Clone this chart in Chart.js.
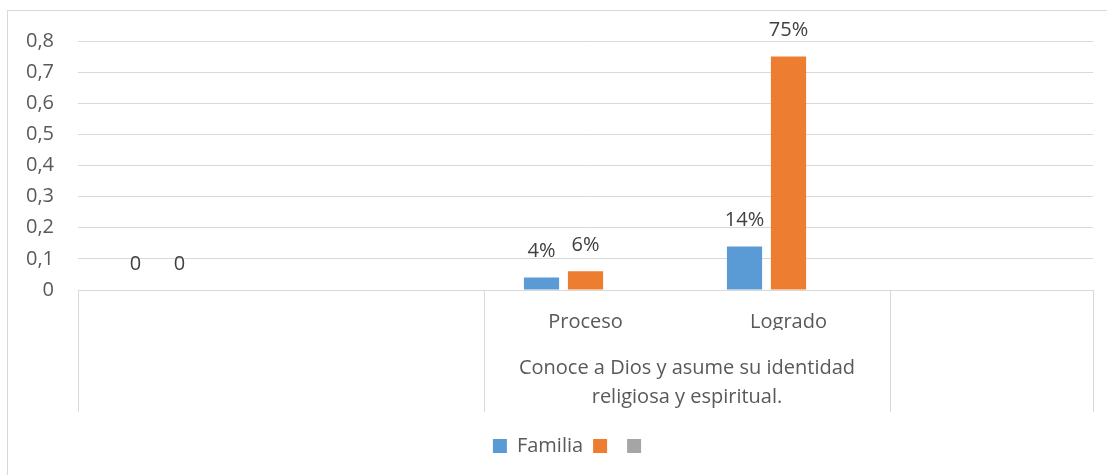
<!DOCTYPE html>
<html>
<head>
<meta charset="utf-8">
<script src="https://cdn.jsdelivr.net/npm/chart.js@4.4.0/dist/chart.umd.min.js"></script>
<style>
    html, body { margin: 0; padding: 0; background: #fff; overflow: hidden; }
    #marco {
        position: absolute; left: 7px; top: 10px;
        width: 1128px; height: 464px;
        border-left: 1px solid #d9d9d9; border-top: 1px solid #d9d9d9;
    }
</style>
</head>
<body>
<div id="marco"><canvas id="myChart" width="1128" height="464"></canvas></div>
<script>
const categorias = ['', '', 'Proceso', 'Logrado', ''];
const grupos = ['', '', '', ['Conoce a Dios y asume su identidad', 'religiosa y espiritual.'], '', ''];
const familia = [0, null, 0.04, 0.14, null];
const serie2 = [0, null, 0.06, 0.75, null];
const serie3 = [null, null, null, null, null];
const yTicks = [0, 0.1, 0.2, 0.3, 0.4, 0.5, 0.6, 0.7, 0.8];

(()=>{
    const ctxChart = document.getElementById('myChart').getContext('2d');
    const FUENTE = "'Open Sans', sans-serif";
    const GRIS = '#d9d9d9';
    const TEXTO = '#595959';
    const NADA = 'rgba(0,0,0,0)';

    // etiquetas encima de cada barra
    const etiquetas = {
        id: 'etiquetas',
        afterDatasetsDraw(chart) {
            const ctx = chart.ctx;
            ctx.save();
            ctx.font = '20px ' + FUENTE;
            ctx.fillStyle = '#404040';
            ctx.textAlign = 'center';
            ctx.textBaseline = 'middle';
            chart.data.datasets.forEach((ds, i) => {
                const meta = chart.getDatasetMeta(i);
                meta.data.forEach((bar, j) => {
                    const v = ds.data[j];
                    if (v === null || v === undefined) return;
                    const txt = v === 0 ? '0' : Math.round(v * 100) + '%';
                    ctx.fillText(txt, bar.x, bar.y - 26);
                });
            });
            ctx.restore();
        }
    };

    const grafica = new Chart(ctxChart, {
        type: 'bar',
        data: {
            labels: categorias,
            datasets: [
                { label: 'Familia', data: familia, backgroundColor: '#5B9BD5', xAxisID: 'x', yAxisID: 'y' },
                { label: '', data: serie2, backgroundColor: '#ED7D31', xAxisID: 'x', yAxisID: 'y' },
                { label: '', data: serie3, backgroundColor: '#A5A5A5', xAxisID: 'x', yAxisID: 'y' }
            ]
        },
        options: {
            responsive: false,
            animation: false,
            categoryPercentage: 0.65,
            barPercentage: 0.8,
            layout: { padding: { top: 30, right: 0, bottom: 9, left: 0 } },
            plugins: {
                tooltip: { enabled: false },
                legend: {
                    position: 'bottom',
                    labels: {
                        boxWidth: 14, boxHeight: 14, padding: 10,
                        color: TEXTO,
                        font: { family: FUENTE, size: 20 }
                    }
                }
            },
            scales: {
                y: {
                    min: 0, max: 0.8,
                    afterBuildTicks: (axis) => { axis.ticks = yTicks.map(v => ({ value: v })); },
                    afterFit: (axis) => { axis.width = 70; },
                    grid: { color: GRIS, drawTicks: true, tickLength: 21, tickColor: NADA },
                    border: { display: false },
                    ticks: {
                        padding: 3,
                        color: TEXTO,
                        font: { family: FUENTE, size: 20 },
                        callback: (v) => v === 0 ? '0' : Number(v).toFixed(1).replace('.', ',')
                    }
                },
                // eje vacio a la derecha, solo para dejar el margen
                derecha: {
                    type: 'linear',
                    position: 'right',
                    afterFit: (axis) => { axis.width = 43; },
                    grid: { display: false },
                    border: { display: false },
                    ticks: { display: false }
                },
                x: {
                    weight: 0,
                    afterFit: (axis) => { axis.height = 40; },
                    grid: {
                        offset: true,
                        drawOnChartArea: false,
                        drawTicks: true,
                        tickLength: 122,
                        color: (c) => (c.index === undefined || [0, 2, 4].includes(c.index)) ? GRIS : NADA
                    },
                    border: { display: true, color: GRIS },
                    ticks: {
                        autoSkip: false, maxRotation: 0,
                        padding: -102,
                        color: TEXTO,
                        font: { family: FUENTE, size: 20, lineHeight: 1.2 }
                    }
                },
                x2: {
                    type: 'category',
                    labels: grupos,
                    offset: false,
                    position: 'bottom',
                    weight: 1,
                    afterFit: (axis) => { axis.height = 96; },
                    grid: { display: false },
                    border: { display: false },
                    ticks: {
                        autoSkip: false, maxRotation: 0,
                        padding: 16,
                        color: TEXTO,
                        font: { family: FUENTE, size: 20, lineHeight: 1.45 }
                    }
                }
            }
        },
        plugins: [etiquetas]
    });
})()
</script>
</body>
</html>
